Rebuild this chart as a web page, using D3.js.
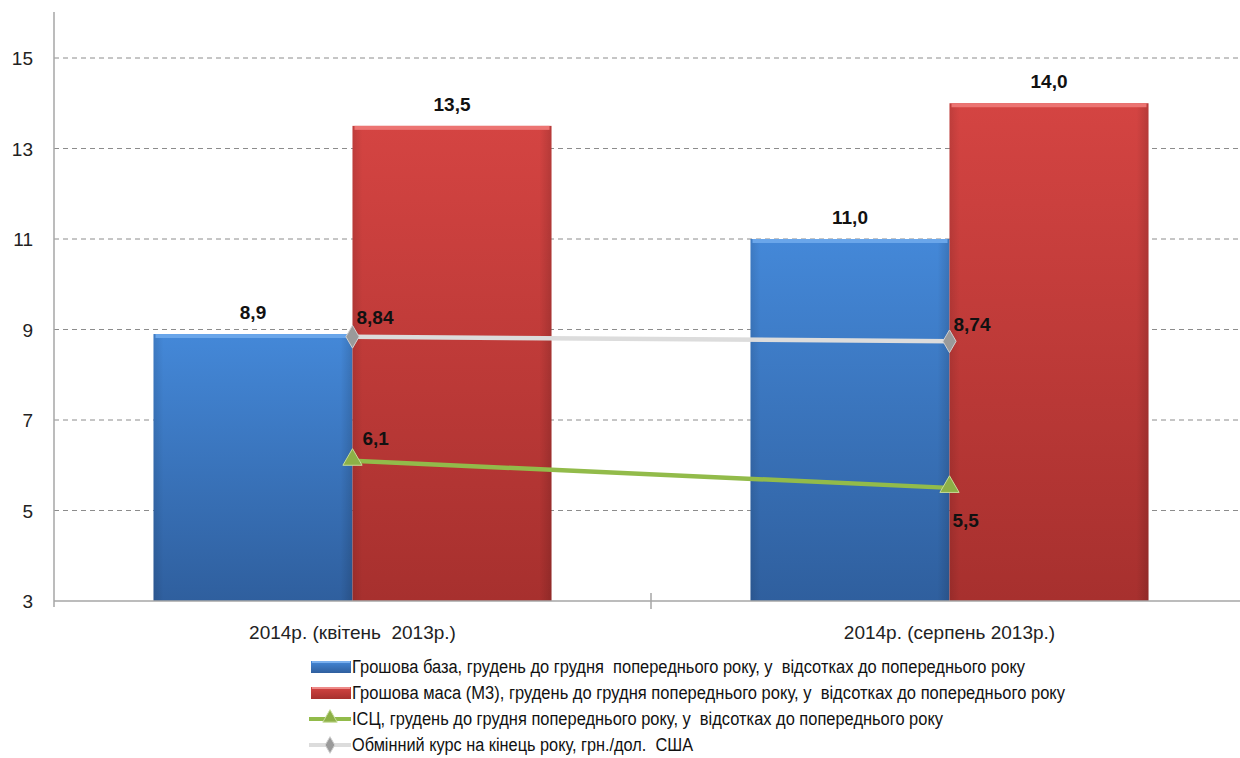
<!DOCTYPE html>
<html><head><meta charset="utf-8">
<script src="https://cdn.jsdelivr.net/npm/d3@7"></script>
<style>body{margin:0;background:#fff}svg{display:block}</style>
</head><body>
<svg id="c" width="1240" height="758"></svg>
<script>
const categories = ["2014р. (квітень  2013р.)", "2014р. (серпень 2013р.)"];
const baseMoney = [8.9, 11.0];
const moneySupply = [13.5, 14.0];
const cpi = [6.1, 5.5];
const exchange = [8.84, 8.74];
const baseLabels = ["8,9", "11,0"];
const supplyLabels = ["13,5", "14,0"];
const cpiLabels = ["6,1", "5,5"];
const exLabels = ["8,84", "8,74"];
const yTicks = [3, 5, 7, 9, 11, 13, 15];
const legendLabels = [
  "Грошова база, грудень до грудня  попереднього року, у  відсотках до попереднього року",
  "Грошова маса (М3), грудень до грудня попереднього року, у  відсотках до попереднього року",
  "ІСЦ, грудень до грудня попереднього року, у  відсотках до попереднього року",
  "Обмінний курс на кінець року, грн./дол.  США"
];

(function () {
const svg = d3.select("#c");
const pL = 54, pR = 1248, pT = 12;
const FONT = "Liberation Sans, Arial, sans-serif";
const y = d3.scaleLinear().domain([3, 15]).range([601, 58]);
const x = d3.scaleBand().domain(categories).range([pL, pR]).paddingInner(0).paddingOuter(0);
const xs = d3.scaleBand().domain(["base", "supply"]).range([0, x.bandwidth()]).paddingInner(0).paddingOuter(0.5);

const defs = svg.append("defs");
function grad(id, c1, c2) {
  const g = defs.append("linearGradient").attr("id", id).attr("x1", 0).attr("y1", 0).attr("x2", 0).attr("y2", 1);
  g.append("stop").attr("offset", "0%").attr("stop-color", c1);
  g.append("stop").attr("offset", "100%").attr("stop-color", c2);
}
grad("gBlue", "#4488d8", "#2f5f9e");
grad("gRed", "#d44442", "#a7302e");
const hg = defs.append("linearGradient").attr("id", "gSide").attr("x1", 0).attr("x2", 1);
hg.append("stop").attr("offset", "0%").attr("stop-color", "#000").attr("stop-opacity", 0.1);
hg.append("stop").attr("offset", "5%").attr("stop-color", "#000").attr("stop-opacity", 0);
hg.append("stop").attr("offset", "94%").attr("stop-color", "#000").attr("stop-opacity", 0);
hg.append("stop").attr("offset", "100%").attr("stop-color", "#000").attr("stop-opacity", 0.14);

svg.append("g").selectAll("line").data(yTicks.filter(d => d > 3)).join("line")
  .attr("x1", pL).attr("x2", 1240).attr("y1", d => y(d)).attr("y2", d => y(d))
  .attr("stroke", "#8c8c8c").attr("stroke-width", 1).attr("stroke-dasharray", "5,4");

const series = [
  {key: "base", vals: baseMoney, labels: baseLabels, fill: "url(#gBlue)", top: "#6aa6ea", edge: "#2a5590"},
  {key: "supply", vals: moneySupply, labels: supplyLabels, fill: "url(#gRed)", top: "#ec7472", edge: "#8e2624"}
];
series.forEach(s => {
  const g = svg.append("g");
  categories.forEach((c, i) => {
    const bx = x(c) + xs(s.key), bw = xs.bandwidth();
    const by = y(s.vals[i]), bh = y(3) - y(s.vals[i]);
    g.append("rect").attr("x", bx).attr("y", by).attr("width", bw).attr("height", bh).attr("fill", s.fill);
    g.append("rect").attr("x", bx).attr("y", by).attr("width", bw).attr("height", bh).attr("fill", "url(#gSide)");
    g.append("rect").attr("x", bx + 2).attr("y", by).attr("width", bw - 4).attr("height", 4).attr("fill", s.top);
    g.append("text").attr("x", bx + bw / 2).attr("y", by - 15).attr("text-anchor", "middle")
      .attr("font-family", FONT).attr("font-weight", "bold").attr("font-size", 19).attr("fill", "#111").text(s.labels[i]);
  });
});

svg.append("line").attr("x1", pL).attr("x2", pL).attr("y1", pT).attr("y2", 607).attr("stroke", "#a6a6a6").attr("stroke-width", 1.5);
svg.append("line").attr("x1", pL).attr("x2", 1240).attr("y1", y(3)).attr("y2", y(3)).attr("stroke", "#a6a6a6").attr("stroke-width", 1.5);
svg.append("line").attr("x1", x(categories[1])).attr("x2", x(categories[1])).attr("y1", y(3) - 8).attr("y2", y(3) + 8).attr("stroke", "#a6a6a6").attr("stroke-width", 1.5);

svg.append("g").selectAll("text").data(yTicks).join("text")
  .attr("x", 33).attr("y", d => y(d) + 7).attr("text-anchor", "end")
  .attr("font-family", FONT).attr("font-size", 19).attr("fill", "#222").text(d => d);

svg.append("g").selectAll("text").data(categories).join("text")
  .attr("x", d => x(d) + x.bandwidth() / 2).attr("y", 639).attr("text-anchor", "middle")
  .attr("font-family", FONT).attr("font-size", 19).attr("fill", "#222").style("white-space", "pre").text(d => d);

const px = c => x(c) + x.bandwidth() / 2;
const line = d3.line().x(d => d[0]).y(d => d[1]);
const exPts = categories.map((c, i) => [px(c), y(exchange[i])]);
const cpiPts = categories.map((c, i) => [px(c), y(cpi[i])]);
svg.append("path").attr("d", line(exPts)).attr("fill", "none").attr("stroke", "#dcdcdc").attr("stroke-width", 4.5);
svg.append("path").attr("d", line(cpiPts)).attr("fill", "none").attr("stroke", "#92bb4a").attr("stroke-width", 4.5);

const diamond = d3.symbol().type(d3.symbolDiamond).size(150);
const tri = d3.symbol().type(d3.symbolTriangle).size(160);
exPts.forEach(p => svg.append("path").attr("d", diamond()).attr("transform", `translate(${p[0]},${p[1]})`).attr("fill", "#9a9a9a").attr("stroke", "#cfcfcf").attr("stroke-width", 1));
cpiPts.forEach(p => svg.append("path").attr("d", tri()).attr("transform", `translate(${p[0]},${p[1] - 1})`).attr("fill", "#8db047").attr("stroke", "#c6dc98").attr("stroke-width", 1));

const lab = (t, xx, yy) => svg.append("text").attr("x", xx).attr("y", yy).attr("font-family", FONT)
  .attr("font-weight", "bold").attr("font-size", 19).attr("fill", "#111").text(t);
lab(exLabels[0], exPts[0][0] + 4, exPts[0][1] - 13);
lab(exLabels[1], exPts[1][0] + 4, exPts[1][1] - 10);
lab(cpiLabels[0], cpiPts[0][0] + 10, cpiPts[0][1] - 16);
lab(cpiLabels[1], cpiPts[1][0] + 3, cpiPts[1][1] + 39);

const legY = [667, 693, 719, 745];
const lg = svg.append("g");
legendLabels.forEach((t, i) => {
  const yy = legY[i];
  if (i < 2) {
    lg.append("rect").attr("x", 311).attr("y", yy - 6).attr("width", 40).attr("height", 12)
      .attr("fill", i === 0 ? "url(#gBlue)" : "url(#gRed)");
    lg.append("rect").attr("x", 312).attr("y", yy - 6).attr("width", 38).attr("height", 2).attr("fill", i === 0 ? "#7ab0ee" : "#ee8a88");
  } else {
    lg.append("line").attr("x1", 309).attr("x2", 351).attr("y1", yy).attr("y2", yy)
      .attr("stroke", i === 2 ? "#92bb4a" : "#dcdcdc").attr("stroke-width", 4);
    if (i === 2) lg.append("path").attr("d", d3.symbol().type(d3.symbolTriangle).size(90)()).attr("transform", `translate(330,${yy - 1})`).attr("fill", "#8db047").attr("stroke", "#c6dc98");
    else lg.append("path").attr("d", d3.symbol().type(d3.symbolDiamond).size(80)()).attr("transform", `translate(330,${yy})`).attr("fill", "#9a9a9a").attr("stroke", "#cfcfcf");
  }
  lg.append("text").attr("class", "lt").attr("x", 352).attr("y", yy + 6)
    .attr("font-family", "Liberation Sans Narrow, Arial Narrow, Liberation Sans, sans-serif").attr("font-size", 18).attr("fill", "#111").style("white-space", "pre").text(t);
});
const targetW = [673, 713, 591, 341];
lg.selectAll("text.lt").each(function (d, i) {
  d3.select(this).attr("textLength", targetW[i]).attr("lengthAdjust", "spacingAndGlyphs");
});
})();
</script>
</body></html>
